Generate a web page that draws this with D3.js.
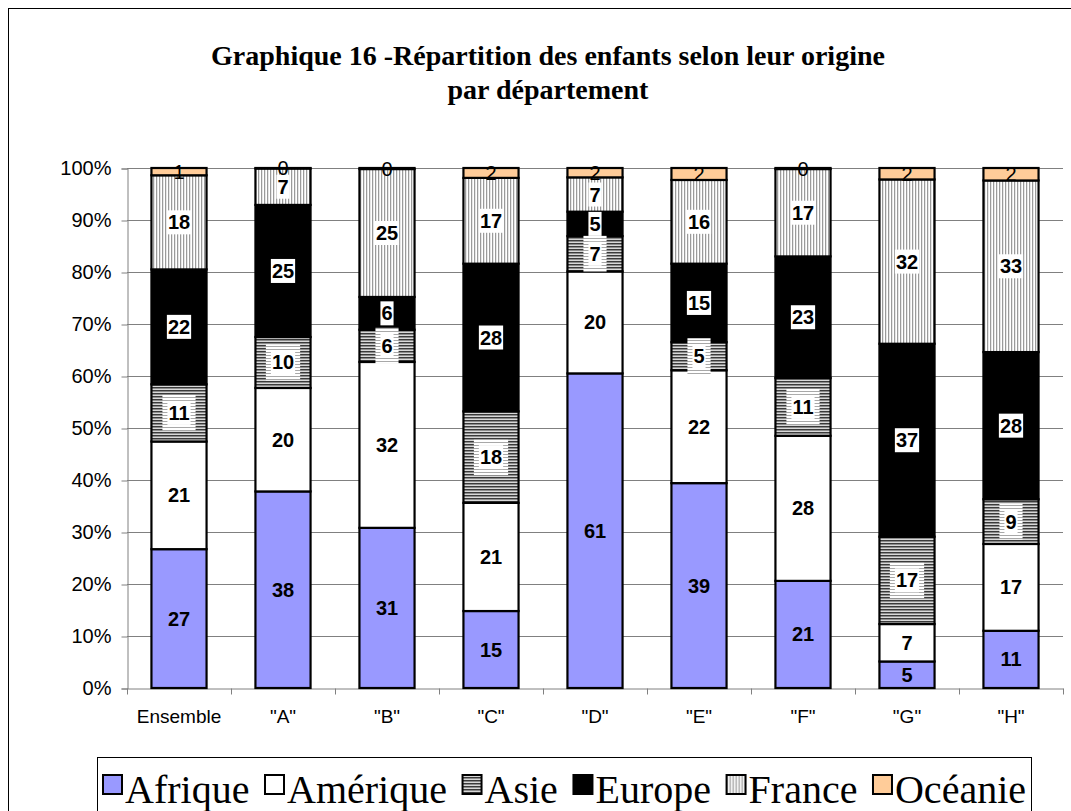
<!DOCTYPE html>
<html>
<head>
<meta charset="utf-8">
<script src="https://cdn.jsdelivr.net/npm/d3@7/dist/d3.min.js"></script>
<style>
  html, body { margin: 0; padding: 0; background: #fff; }
  svg { display: block; }
</style>
</head>
<body>
<svg id="chart" width="1071" height="811"></svg>
<script>
const categories = ["Ensemble", "\"A\"", "\"B\"", "\"C\"", "\"D\"", "\"E\"", "\"F\"", "\"G\"", "\"H\""];
const seriesNames = ["Afrique", "Amérique", "Asie", "Europe", "France", "Océanie"];
const afrique  = [26.7, 37.8, 30.8, 14.8, 60.5, 39.4, 20.6, 5.1, 11.0];
const amerique = [20.7, 19.9, 31.9, 20.8, 19.6, 21.7, 27.9, 7.2, 16.7];
const asie     = [11.0, 9.8, 6.2, 17.6, 6.8, 5.4, 11.1, 16.8, 8.6];
const europe   = [22.1, 25.4, 6.3, 28.4, 4.7, 15.1, 23.4, 37.1, 28.3];
const france   = [18.1, 7.0, 24.6, 16.5, 6.6, 16.1, 16.8, 31.6, 33.0];
const oceanie  = [1.4, 0.1, 0.2, 1.9, 1.8, 2.3, 0.2, 2.2, 2.4];
const yTicks = [0, 0.1, 0.2, 0.3, 0.4, 0.5, 0.6, 0.7, 0.8, 0.9, 1];
const titleLines = ["Graphique 16 -Répartition des enfants selon leur origine", "par département"];

const seriesValues = [afrique, amerique, asie, europe, france, oceanie];
const table = categories.map((c, i) => {
  const row = { cat: c };
  seriesNames.forEach((s, j) => row[s] = seriesValues[j][i]);
  return row;
});

const svg = d3.select("#chart");
const defs = svg.append("defs");

// patterns
const pAsie = defs.append("pattern").attr("id", "pat-asie").attr("patternUnits", "userSpaceOnUse")
  .attr("width", 4).attr("height", 3);
pAsie.append("rect").attr("width", 4).attr("height", 1).attr("y", 0).attr("fill", "#3a3a3a");
pAsie.append("rect").attr("width", 4).attr("height", 1).attr("y", 1).attr("fill", "#8c8c8c");
pAsie.append("rect").attr("width", 4).attr("height", 1).attr("y", 2).attr("fill", "#d8d8d8");

const pAsieLight = defs.append("pattern").attr("id", "pat-asie-light").attr("patternUnits", "userSpaceOnUse")
  .attr("width", 4).attr("height", 3);
pAsieLight.append("rect").attr("width", 4).attr("height", 3).attr("fill", "#ffffff");
pAsieLight.append("rect").attr("width", 4).attr("height", 1).attr("y", 1).attr("fill", "#a8a8a8");

const pFrance = defs.append("pattern").attr("id", "pat-france").attr("patternUnits", "userSpaceOnUse")
  .attr("width", 3).attr("height", 4);
pFrance.append("rect").attr("width", 3).attr("height", 4).attr("fill", "#e6e6e6");
pFrance.append("rect").attr("width", 1).attr("height", 4).attr("x", 0).attr("fill", "#9a9a9a");
pFrance.append("rect").attr("width", 1).attr("height", 4).attr("x", 2).attr("fill", "#ffffff");

const fills = {
  "Afrique": "#9999ff",
  "Amérique": "#ffffff",
  "Asie": "url(#pat-asie)",
  "Europe": "#000000",
  "France": "url(#pat-france)",
  "Océanie": "#ffcc99"
};
const boxed = { "Asie": true, "Europe": true, "France": true };

// frame
svg.append("rect").attr("x", 8.5).attr("y", 8.5).attr("width", 1200).attr("height", 1200)
  .attr("fill", "none").attr("stroke", "#000").attr("stroke-width", 1);

// title
const title = svg.append("text").attr("text-anchor", "middle")
  .attr("font-family", "'Liberation Serif', 'Times New Roman', serif")
  .attr("font-weight", "bold").attr("font-size", 28).attr("fill", "#000");
titleLines.forEach((t, i) => {
  title.append("tspan").attr("x", 548).attr("y", 65 + i * 34).text(t);
});

// scales
const plotLeft = 127, plotRight = 1063, plotTop = 168, plotBottom = 688;
const x = d3.scaleBand().domain(categories).range([plotLeft, plotRight]).paddingInner(0.47).paddingOuter(0.235);
const y = d3.scaleLinear().domain([0, 1]).range([plotBottom, plotTop]);

// gridlines
svg.append("g").selectAll("line").data(yTicks.filter(d => d > 0)).join("line")
  .attr("x1", plotLeft).attr("x2", plotRight)
  .attr("y1", d => Math.round(y(d)) + 0.5).attr("y2", d => Math.round(y(d)) + 0.5)
  .attr("stroke", "#808080").attr("stroke-width", 1);

// y axis
const yAxis = d3.axisLeft(y).tickValues(yTicks).tickFormat(d3.format(".0%")).tickSize(6).tickPadding(10);
const gy = svg.append("g").attr("transform", `translate(${plotLeft + 0.5},0.5)`).call(yAxis);
gy.select(".domain").attr("stroke", "#808080");
gy.selectAll(".tick line").attr("stroke", "#808080");
gy.selectAll(".tick text").attr("font-family", "'Liberation Sans', Arial, sans-serif")
  .attr("font-size", 20).attr("fill", "#000");

// x axis
const xAxis = d3.axisBottom(x).tickSize(0).tickPadding(21);
const gx = svg.append("g").attr("transform", `translate(0,${plotBottom + 0.5})`).call(xAxis);
gx.select(".domain").attr("stroke", "#808080");
gx.selectAll(".tick text").attr("font-family", "'Liberation Sans', Arial, sans-serif")
  .attr("font-size", 19).attr("fill", "#000");
// category separator ticks
const sepPositions = categories.map((c, i) => x(c) - x.step() * x.paddingInner() / 2).concat([plotRight]);
gx.append("g").selectAll("line").data(sepPositions).join("line")
  .attr("x1", d => Math.round(d) + 0.5).attr("x2", d => Math.round(d) + 0.5)
  .attr("y1", 0).attr("y2", 6).attr("stroke", "#808080");

// stack
const stack = d3.stack().keys(seriesNames).offset(d3.stackOffsetExpand);
const layers = stack(table);

const gBars = svg.append("g");
layers.forEach(layer => {
  gBars.append("g").selectAll("rect").data(layer).join("rect")
    .attr("x", d => x(d.data.cat))
    .attr("width", x.bandwidth())
    .attr("y", d => y(d[1]))
    .attr("height", d => Math.max(0, y(d[0]) - y(d[1])))
    .attr("fill", fills[layer.key])
    .attr("stroke", "#000").attr("stroke-width", 2.2);
});

// labels
const gLabels = svg.append("g");
layers.forEach(layer => {
  layer.forEach(d => {
    const cx = x(d.data.cat) + x.bandwidth() / 2;
    const cy = (y(d[0]) + y(d[1])) / 2;
    const val = Math.round(d.data[layer.key]);
    const isOce = layer.key === "Océanie";
    const g = gLabels.append("g");
    const t = g.append("text").attr("x", cx).attr("y", cy)
      .attr("text-anchor", "middle").attr("dominant-baseline", "central")
      .attr("font-family", "'Liberation Sans', Arial, sans-serif")
      .attr("font-size", 20).attr("font-weight", isOce ? "normal" : "bold")
      .attr("fill", "#000").text(val);
    if (boxed[layer.key]) {
      const w = t.node().getComputedTextLength();
      if (layer.key === "Asie") {
        g.insert("rect", "text").attr("x", cx - w / 2 - 6).attr("y", cy - 18)
          .attr("width", w + 12).attr("height", 36).attr("fill", "url(#pat-asie-light)");
      }
      g.insert("rect", "text").attr("x", cx - w / 2 - 1).attr("y", cy - 12)
        .attr("width", w + 2).attr("height", 24).attr("fill", "#fff");
    }
  });
});

// legend
const legend = svg.append("g");
legend.append("rect").attr("x", 97.5).attr("y", 757.5).attr("width", 934).attr("height", 80)
  .attr("fill", "#fff").attr("stroke", "#000").attr("stroke-width", 1);
const legStart = 103, legEnd = 1026, sq = 19, sqGap = 3;
const items = seriesNames.map(s => {
  const g = legend.append("g");
  g.append("rect").attr("y", 775).attr("width", sq).attr("height", sq)
    .attr("fill", fills[s]).attr("stroke", "#000").attr("stroke-width", 2);
  const t = g.append("text").attr("x", sq + sqGap).attr("y", 803)
    .attr("font-family", "'Liberation Serif', 'Times New Roman', serif")
    .attr("font-size", 40).attr("fill", "#000").text(s);
  return { g, w: sq + sqGap + t.node().getComputedTextLength() };
});
const totalW = d3.sum(items, d => d.w);
const gap = Math.max(4, (legEnd - legStart - totalW) / (items.length - 1));
let lx = legStart;
items.forEach(it => {
  it.g.attr("transform", `translate(${lx},0)`);
  it.g.select("rect").attr("x", 0);
  lx += it.w + gap;
});
</script>
</body>
</html>
